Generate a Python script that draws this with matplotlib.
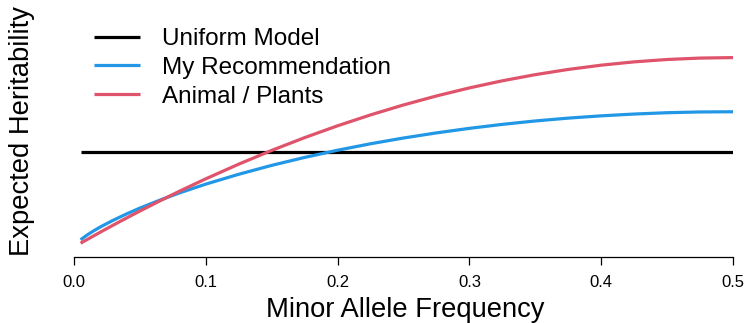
import matplotlib
matplotlib.use("Agg")
import matplotlib.pyplot as plt

# values (relative heritability, uniform model = 1)
maf = [0.005, 0.0075, 0.01, 0.015, 0.02, 0.03, 0.04, 0.05, 0.065, 0.08, 0.1,
       0.125, 0.15, 0.175, 0.2, 0.225, 0.25, 0.275, 0.3, 0.325, 0.35, 0.375,
       0.4, 0.425, 0.45, 0.475, 0.5]
uniform = [1.0] * len(maf)
recommendation = [0.076, 0.102, 0.127, 0.171, 0.212, 0.284, 0.350, 0.411, 0.494, 0.571, 0.664,
                  0.768, 0.862, 0.946, 1.022, 1.090, 1.151, 1.205, 1.253, 1.295, 1.331, 1.361,
                  1.385, 1.404, 1.418, 1.426, 1.428]
animal_plants = [0.040, 0.060, 0.079, 0.118, 0.157, 0.233, 0.307, 0.380, 0.486, 0.589, 0.720,
                 0.875, 1.020, 1.155, 1.280, 1.395, 1.500, 1.595, 1.680, 1.755, 1.820, 1.875,
                 1.920, 1.955, 1.980, 1.995, 2.000]
labels = ["Uniform Model", "My Recommendation", "Animal / Plants"]
colors = ["black", "#2297E6", "#DF536B"]
xticks = [0.0, 0.1, 0.2, 0.3, 0.4, 0.5]

plt.rcParams["font.family"] = ["Liberation Sans", "DejaVu Sans"]

W, H = 744, 323
fig = plt.figure(figsize=(W / 100, H / 100), dpi=100)
left, right, top, bottom = 74, 733, 5, 257
ax = fig.add_axes([left / W, 1 - bottom / H, (right - left) / W, (bottom - top) / H])

for y, lab, col in zip([uniform, recommendation, animal_plants], labels, colors):
    ax.plot(maf, y, color=col, lw=2.3, label=lab, solid_capstyle="butt")

ax.set_xlim(0, 0.5)
px_per_unit = 94.7
ax.set_ylim(-(bottom - 247) / px_per_unit, (247 - top) / px_per_unit)

for side in ["left", "right", "top"]:
    ax.spines[side].set_visible(False)
ax.spines["bottom"].set_bounds(0, 0.5)
ax.spines["bottom"].set_linewidth(0.9)
ax.set_yticks([])
ax.set_xticks(xticks)
ax.set_xticklabels([f"{t:.1f}" for t in xticks])
ax.tick_params(axis="x", length=5.8, width=0.9, pad=7, labelsize=12)

fig.text(405 / W, 1 - 317 / H, "Minor Allele Frequency", fontsize=19.7,
         ha="center", va="baseline")
fig.text(22 / W, 1 - 131 / H, "Expected Heritability", fontsize=19.7,
         rotation=90, ha="center", va="center")

ax.legend(loc="upper left", bbox_to_anchor=(94 / W, 1 - 28 / H),
          bbox_transform=fig.transFigure, frameon=False, fontsize=17.5,
          handlelength=1.9, handletextpad=0.88, labelspacing=0.28,
          borderaxespad=0, borderpad=0)

fig.savefig("out.png", dpi=100)
